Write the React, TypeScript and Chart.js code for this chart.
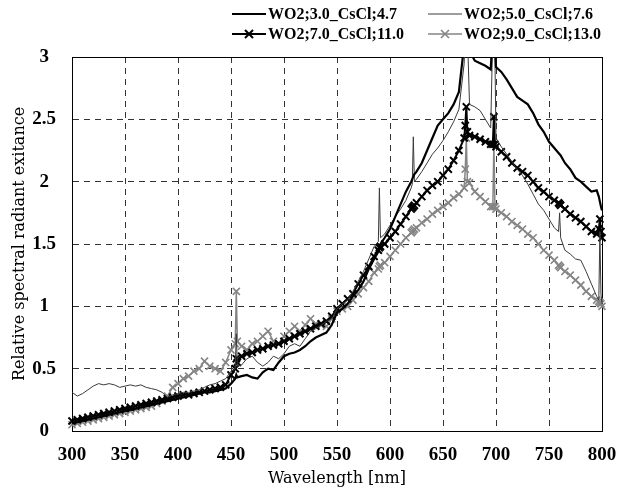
import React, { useEffect, useRef } from "react";
import { Chart, registerables } from "chart.js";

Chart.register(...registerables);

// Wavelength samples [nm] (5 nm grid plus narrow emission-line samples)
const WAVELENGTHS = [
  300, 305, 310, 315, 320, 325, 330, 335, 340, 345, 350, 355, 360, 365, 370, 375, 380, 385, 390, 395, 400, 405, 410, 415, 420, 425, 430, 435, 440, 445, 450,
  454, 455, 456,
  460, 465, 470, 475, 480, 485, 490, 495, 500, 505, 510, 515, 520, 525, 530, 535, 540, 545, 550, 555, 560, 565, 570, 575, 580, 585,
  589, 590, 591,
  595, 600, 605, 610, 615, 620,
  621, 622, 623,
  625, 630, 635, 640, 645, 650, 655, 660, 665, 670,
  671, 672, 673,
  675, 680, 685, 690, 695,
  697, 698, 699,
  700, 705, 710, 715, 720, 725, 730, 735, 740, 745, 750, 755,
  759, 760, 761,
  765, 770, 775, 780, 785, 790, 795,
  797, 798, 799,
  800,
];

const SERIES_LABELS = [
  "WO2;3.0_CsCl;4.7",
  "WO2;5.0_CsCl;7.6",
  "WO2;7.0_CsCl;11.0",
  "WO2;9.0_CsCl;13.0",
];

const S_WO2_3_0 = [
  0.06, 0.07, 0.08, 0.09, 0.10, 0.11, 0.12, 0.13, 0.14, 0.15, 0.16, 0.17, 0.18, 0.19, 0.20, 0.21, 0.22, 0.23, 0.24, 0.25, 0.26, 0.27, 0.28, 0.29, 0.30, 0.31, 0.31, 0.32, 0.33, 0.34, 0.38,
  0.42, 0.45, 0.43,
  0.44, 0.45, 0.43, 0.42, 0.47, 0.50, 0.49, 0.55, 0.60, 0.62, 0.63, 0.65, 0.68, 0.72, 0.75, 0.77, 0.79, 0.85, 0.95, 0.98, 1.02, 1.08, 1.13, 1.20, 1.30, 1.38,
  1.44, 1.47, 1.50,
  1.55, 1.62, 1.72, 1.82, 1.92, 2.00,
  2.02, 2.04, 2.06,
  2.08, 2.15, 2.25, 2.35, 2.45, 2.50, 2.55, 2.62, 2.72, 3.10,
  3.30, 3.40, 3.30,
  3.05, 2.97, 2.95, 2.93, 2.90,
  3.20, 3.40, 3.10,
  2.92, 2.88, 2.82, 2.75, 2.68, 2.65, 2.62, 2.55, 2.46, 2.40, 2.32, 2.27,
  2.23, 2.22, 2.21,
  2.15, 2.10, 2.03, 2.00, 1.96, 1.92, 1.93,
  1.88, 1.84, 1.80,
  1.77,
];

const S_WO2_5_0 = [
  0.31, 0.28, 0.30, 0.33, 0.36, 0.38, 0.37, 0.38, 0.37, 0.35, 0.36, 0.37, 0.36, 0.37, 0.35, 0.34, 0.33, 0.31, 0.27, 0.29, 0.30, 0.31, 0.31, 0.32, 0.33, 0.35, 0.37, 0.38, 0.40, 0.42, 0.48,
  0.50, 0.78, 0.52,
  0.53, 0.58, 0.60, 0.55, 0.52, 0.55, 0.60, 0.58, 0.62, 0.68, 0.70, 0.68, 0.74, 0.80, 0.82, 0.85, 0.88, 0.90, 0.98, 1.02, 1.05, 1.12, 1.20, 1.28, 1.38, 1.48,
  1.52, 1.95, 1.55,
  1.58, 1.65, 1.72, 1.78, 1.85, 1.95,
  1.98, 2.36, 2.00,
  2.02, 2.08, 2.15, 2.22, 2.27, 2.33, 2.40, 2.48, 2.58, 2.95,
  3.30, 3.40, 3.20,
  2.62, 2.60, 2.57, 2.50, 2.43,
  3.20, 3.40, 3.00,
  2.35, 2.28, 2.22, 2.16, 2.10, 2.05, 1.98, 1.90, 1.82, 1.77, 1.70, 1.63,
  1.60, 1.75, 1.55,
  1.45, 1.42, 1.38, 1.37, 1.28, 1.18, 1.08,
  1.05, 1.60, 1.10,
  1.02,
];

const S_WO2_7_0 = [
  0.08, 0.09, 0.10, 0.11, 0.12, 0.13, 0.14, 0.15, 0.16, 0.17, 0.18, 0.19, 0.20, 0.21, 0.22, 0.23, 0.24, 0.25, 0.26, 0.27, 0.28, 0.29, 0.29, 0.30, 0.31, 0.32, 0.33, 0.34, 0.35, 0.37, 0.45,
  0.50, 0.58, 0.55,
  0.60, 0.62, 0.63, 0.65, 0.66, 0.68, 0.69, 0.70, 0.72, 0.74, 0.76, 0.78, 0.80, 0.82, 0.84, 0.86, 0.88, 0.92, 0.98, 1.02, 1.06, 1.10, 1.18, 1.25, 1.32, 1.40,
  1.45, 1.47, 1.48,
  1.50, 1.55, 1.60, 1.66, 1.72, 1.78,
  1.79, 1.80, 1.81,
  1.83, 1.88, 1.93, 1.97, 2.00, 2.05, 2.10, 2.17, 2.25, 2.35,
  2.45, 2.60, 2.40,
  2.37, 2.36, 2.34, 2.32, 2.30,
  2.30, 2.52, 2.30,
  2.28, 2.24, 2.20, 2.15, 2.11, 2.08, 2.05, 2.00, 1.95, 1.92, 1.88, 1.85,
  1.83, 1.82, 1.81,
  1.78, 1.74, 1.71, 1.68, 1.64, 1.60, 1.58,
  1.62, 1.70, 1.60,
  1.55,
];

const S_WO2_9_0 = [
  0.05, 0.06, 0.07, 0.08, 0.09, 0.10, 0.11, 0.12, 0.13, 0.14, 0.15, 0.16, 0.17, 0.18, 0.19, 0.20, 0.22, 0.24, 0.28, 0.35, 0.38, 0.42, 0.44, 0.48, 0.50, 0.56, 0.52, 0.50, 0.48, 0.55, 0.65,
  0.70, 1.12, 0.72,
  0.68, 0.65, 0.70, 0.72, 0.76, 0.80, 0.72, 0.70, 0.76, 0.80, 0.84, 0.80, 0.85, 0.90, 0.86, 0.85, 0.84, 0.90, 0.96, 0.98, 1.00, 1.05, 1.10, 1.15, 1.20, 1.27,
  1.30, 1.32, 1.33,
  1.35, 1.40, 1.45, 1.50, 1.55, 1.59,
  1.60, 1.61, 1.62,
  1.63, 1.67, 1.70, 1.74, 1.77, 1.80, 1.83, 1.87, 1.90, 1.95,
  2.10, 2.35, 2.00,
  1.99, 1.92, 1.88, 1.84, 1.80,
  1.80, 2.30, 1.80,
  1.78, 1.75, 1.72, 1.68, 1.65, 1.62, 1.58, 1.55, 1.50, 1.45, 1.41, 1.37,
  1.33, 1.32, 1.31,
  1.28, 1.25, 1.21, 1.17, 1.12, 1.08, 1.05,
  1.04, 1.03, 1.02,
  1.00,
];

const X_MIN = 300;
const X_MAX = 800;
const X_STEP = 50;
const Y_MIN = 0;
const Y_MAX = 3;
const Y_STEP = 0.5;

const FONT = '"Liberation Serif", "DejaVu Serif", serif';
const TITLE_FONT = '"DejaVu Serif", "Liberation Serif", serif';

export default function App() {
  const ref = useRef<HTMLCanvasElement>(null);

  useEffect(() => {
    if (!ref.current) return;
    const toXY = (vals: number[]) => WAVELENGTHS.map((x, i) => ({ x, y: vals[i] }));

    const styles = [
      { color: "#000000", width: 2.2, marker: false, mw: 0 },
      { color: "#3a3a3a", width: 1, marker: false, mw: 0 },
      { color: "#000000", width: 2, marker: true, mw: 2 },
      { color: "#858585", width: 1.5, marker: true, mw: 1.6 },
    ];
    const seriesValues = [S_WO2_3_0, S_WO2_5_0, S_WO2_7_0, S_WO2_9_0];

    const framePlugin = {
      id: "frame",
      beforeDatasetsDraw(chart: any) {
        const { ctx, chartArea: a } = chart;
        ctx.save();
        ctx.strokeStyle = "#000";
        ctx.lineWidth = 1;
        ctx.setLineDash([]);
        ctx.strokeRect(Math.round(a.left) + 0.5, Math.round(a.top) + 0.5, Math.round(a.right - a.left), Math.round(a.bottom - a.top));
        ctx.restore();
      },
    };

    const legendPlugin = {
      id: "customLegend",
      afterDraw(chart: any) {
        const { ctx } = chart;
        const pos = [
          { x: 232, y: 14 },
          { x: 428, y: 14 },
          { x: 232, y: 34 },
          { x: 428, y: 34 },
        ];
        const lineLen = 34;
        ctx.save();
        pos.forEach((p, i) => {
          const st = styles[i];
          ctx.strokeStyle = st.color;
          ctx.lineWidth = st.width;
          ctx.setLineDash([]);
          ctx.beginPath();
          ctx.moveTo(p.x, p.y);
          ctx.lineTo(p.x + lineLen, p.y);
          ctx.stroke();
          if (st.marker) {
            const cx = p.x + lineLen / 2;
            const r = 4;
            ctx.lineWidth = st.mw;
            ctx.beginPath();
            ctx.moveTo(cx - r, p.y - r);
            ctx.lineTo(cx + r, p.y + r);
            ctx.moveTo(cx - r, p.y + r);
            ctx.lineTo(cx + r, p.y - r);
            ctx.stroke();
          }
          ctx.fillStyle = "#000";
          ctx.font = `bold 16px ${FONT}`;
          ctx.textBaseline = "middle";
          ctx.textAlign = "left";
          ctx.fillText(SERIES_LABELS[i], p.x + lineLen + 2, p.y + 1);
        });
        ctx.restore();
      },
    };

    const chart = new Chart(ref.current, {
      type: "line",
      data: {
        datasets: seriesValues.map((vals, i) => ({
          label: SERIES_LABELS[i],
          data: toXY(vals),
          borderColor: styles[i].color,
          backgroundColor: styles[i].color,
          borderWidth: styles[i].width,
          fill: false,
          tension: 0,
          clip: { left: 6, right: 6, top: 0, bottom: 6 },
          pointStyle: styles[i].marker ? "crossRot" : "circle",
          pointRadius: styles[i].marker ? 5 : 0,
          pointBorderWidth: styles[i].mw,
          pointBorderColor: styles[i].color,
          pointHoverRadius: 0,
        })),
      },
      options: {
        animation: false,
        responsive: false,
        devicePixelRatio: 1,
        events: [],
        layout: { padding: { top: 57, right: 32, left: 0, bottom: 0 } },
        plugins: {
          legend: { display: false },
          tooltip: { enabled: false },
        },
        scales: {
          x: {
            type: "linear",
            min: X_MIN,
            max: X_MAX,
            ticks: {
              stepSize: X_STEP,
              padding: 13,
              color: "#000",
              maxRotation: 0,
              autoSkip: false,
              font: { family: FONT, size: 19, weight: "bold" },
            },
            grid: { color: "#333", lineWidth: 1, drawTicks: false },
            border: { display: true, color: "#000", width: 1, dash: [6, 5] },
            title: {
              display: true,
              text: "Wavelength [nm]",
              color: "#000",
              font: { family: TITLE_FONT, size: 16 },
              padding: { top: 0, bottom: 2 },
            },
            afterFit(s: any) {
              s.height = 59;
              s.paddingLeft = 0;
              s.paddingRight = 0;
            },
          },
          y: {
            type: "linear",
            min: Y_MIN,
            max: Y_MAX,
            ticks: {
              stepSize: Y_STEP,
              padding: 16,
              crossAlign: "center",
              color: "#000",
              font: { family: FONT, size: 19, weight: "bold" },
              callback: (v: any) => String(v),
            },
            grid: { color: "#333", lineWidth: 1, drawTicks: false },
            border: { display: true, color: "#000", width: 1, dash: [6, 5] },
            title: {
              display: true,
              text: "Relative spectral radiant exitance",
              color: "#000",
              font: { family: TITLE_FONT, size: 16 },
              padding: { top: 10, bottom: 0 },
            },
            afterFit(s: any) {
              s.width = 72;
              s.paddingTop = 0;
              s.paddingBottom = 0;
            },
          },
        },
      } as any,
      plugins: [framePlugin, legendPlugin],
    });

    return () => chart.destroy();
  }, []);

  return (
    <div style={{ position: "fixed", left: 0, top: 0, width: 634, height: 490, background: "#fff" }}>
      <canvas ref={ref} width={634} height={490} style={{ display: "block", width: 634, height: 490 }} />
    </div>
  );
}
